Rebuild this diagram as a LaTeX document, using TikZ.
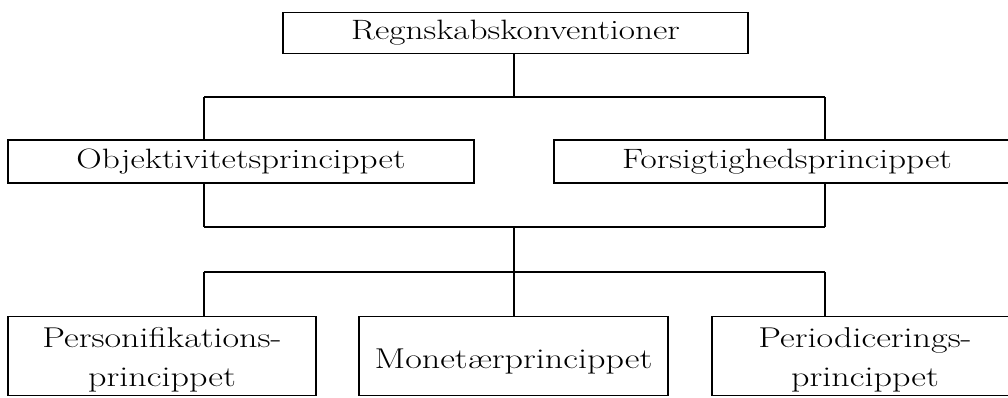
\documentclass[tikz,border=0pt]{standalone}
\usepackage{fontspec}
\setmainfont{Latin Modern Roman}[FakeStretch=1.26]
\begin{document}
\begin{tikzpicture}[x=0.75pt,y=-0.75pt,
  box/.style={draw,line width=1.3pt,inner sep=0pt,align=center,font=\fontsize{21}{26}\selectfont},
  lowbox/.style={box,font=\fontsize{21.5}{29}\selectfont},
  conn/.style={line width=1pt},
  bar/.style={line width=1.3pt}]
\useasboundingbox (0,0) rectangle (1008,397);
\clip (0,0) rectangle (1008,397);
\node[box,minimum width=348.75pt,minimum height=30.75pt] (top) at (515.5,33) {Regnskabskonventioner};
\node[box,minimum width=349.5pt,minimum height=32.25pt] (obj) at (241,161.5) {Objektivitetsprincippet};
\node[box,minimum width=349.5pt,minimum height=32.25pt] (for) at (787,161.5) {Forsigtighedsprincippet};
\node[lowbox,minimum width=231pt,minimum height=59.25pt] (per) at (162,356) {\rule{0pt}{21pt}Personifikations-\\princippet};
\node[lowbox,minimum width=231.75pt,minimum height=59.25pt] (mon) at (513.5,356) {\rule{0pt}{23pt}Monetærprincippet};
\node[lowbox,minimum width=229.5pt,minimum height=59.25pt] (pdc) at (865,356) {\rule{0pt}{21pt}Periodicerings-\\princippet};
\coordinate (a1) at (204,97);
\coordinate (a2) at (514,97);
\coordinate (a3) at (825,97);
\coordinate (b1) at (204,227);
\coordinate (b2) at (514,227);
\coordinate (b3) at (825,227);
\coordinate (c1) at (204,272);
\coordinate (c2) at (514,272);
\coordinate (c3) at (825,272);
\draw[conn] (a2 |- top.south) -- (a2);
\draw[bar] (a1) -- (a3);
\draw[conn] (a1) -- (a1 |- obj.north);
\draw[conn] (a3) -- (a3 |- for.north);
\draw[conn] (b1 |- obj.south) -- (b1);
\draw[conn] (b3 |- for.south) -- (b3);
\draw[bar] (b1) -- (b3);
\draw[conn] (b2) -- (c2);
\draw[bar] (c1) -- (c3);
\draw[conn] (c1) -- (c1 |- per.north);
\draw[conn] (c2) -- (c2 |- mon.north);
\draw[conn] (c3) -- (c3 |- pdc.north);
\end{tikzpicture}
\end{document}
